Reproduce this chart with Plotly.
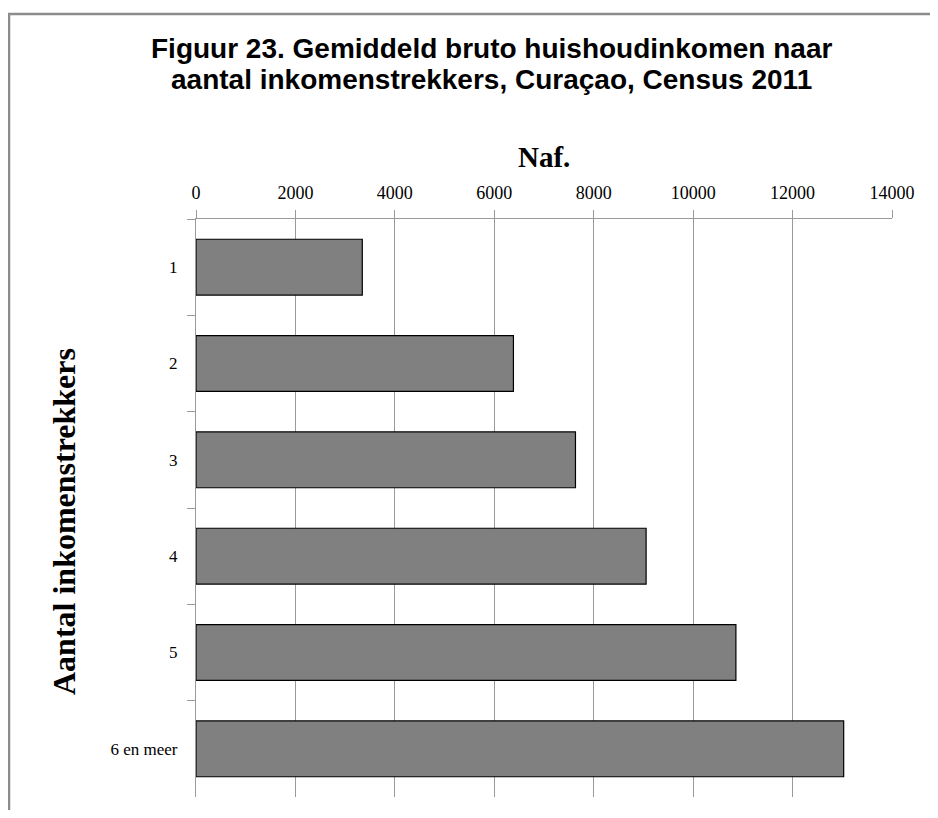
import plotly.graph_objects as go

categories = ["1", "2", "3", "4", "5", "6 en meer"]
values = [3345, 6385, 7633, 9054, 10860, 13028]
x_ticks = [0, 2000, 4000, 6000, 8000, 10000, 12000, 14000]

title_line1 = "Figuur 23. Gemiddeld bruto huishoudinkomen naar"
title_line2 = "aantal inkomenstrekkers, Curaçao, Census 2011"
x_title = "Naf."
y_title = "Aantal inkomenstrekkers"

# page body has an 8px margin; figure sized so no scrollbars appear
OFF = 8
W, H = 922, 802
L, T = 196 - OFF, 219 - OFF
R = W - (892 - OFF)
B = H - (797 - OFF)
pw, ph = W - L - R, H - T - B

def px_x(p):
    return (p - OFF - L) / pw

def px_y(p):
    return (H - B - (p - OFF)) / ph

fig = go.Figure()
fig.add_trace(go.Bar(
    y=categories, x=values, orientation="h",
    marker=dict(color="#808080", line=dict(color="#000000", width=1.2)),
    width=0.58,
))

serif = "Liberation Serif, Times New Roman, serif"
sans = "Liberation Sans, Arial, sans-serif"
axis_gray = "#9a9a9a"

fig.update_layout(
    width=W, height=H,
    margin=dict(l=L, r=R, t=T, b=B, pad=0),
    paper_bgcolor="white", plot_bgcolor="white",
    showlegend=False,
    xaxis=dict(
        side="top", range=[0, 14000], tickvals=x_ticks,
        ticktext=[str(v) for v in x_ticks],
        showgrid=True, gridcolor=axis_gray, gridwidth=1.3,
        showline=True, linecolor=axis_gray, linewidth=1.3,
        ticks="outside", ticklen=8, tickcolor=axis_gray, tickwidth=1.3,
        tickfont=dict(family=serif, size=18, color="#000"),
        ticklabelstandoff=4,
        zeroline=False, fixedrange=True,
    ),
    yaxis=dict(
        type="category", categoryorder="array", categoryarray=categories,
        autorange="reversed",
        showline=True, linecolor=axis_gray, linewidth=1.3,
        ticks="outside", tickson="boundaries", ticklen=8, tickcolor=axis_gray, tickwidth=1.3,
        tickfont=dict(family=serif, size=17, color="#000"),
        showgrid=False, zeroline=False, fixedrange=True,
        ticklabelstandoff=14,
    ),
    annotations=[
        dict(text="<b>" + title_line1 + "</b>", xref="paper", yref="paper",
             x=px_x(491), y=px_y(48), xanchor="center", yanchor="middle",
             showarrow=False, font=dict(family=sans, size=28, color="#000")),
        dict(text="<b>" + title_line2 + "</b>", xref="paper", yref="paper",
             x=px_x(491), y=px_y(79), xanchor="center", yanchor="middle",
             showarrow=False, font=dict(family=sans, size=28, color="#000")),
        dict(text="<b>" + x_title + "</b>", xref="paper", yref="paper",
             x=px_x(544), y=px_y(157), xanchor="center", yanchor="middle",
             showarrow=False, font=dict(family=serif, size=29, color="#000")),
        dict(text="<b>" + y_title + "</b>", xref="paper", yref="paper",
             x=px_x(64), y=px_y(522), xanchor="center", yanchor="middle",
             textangle=-90,
             showarrow=False, font=dict(family=serif, size=32, color="#000")),
    ],
    shapes=[
        dict(type="rect", xref="paper", yref="paper",
             x0=px_x(9), x1=px_x(960), y0=px_y(840), y1=px_y(14),
             line=dict(color="#8c8c8c", width=2.5), fillcolor="rgba(0,0,0,0)",
             layer="below"),
    ],
)

fig.write_html("out.html")
